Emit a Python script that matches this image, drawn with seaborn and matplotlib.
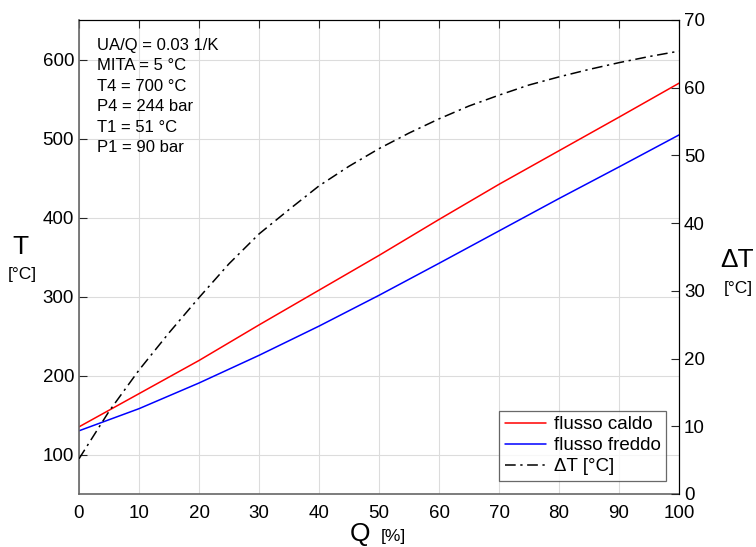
import numpy as np
import pandas as pd
import matplotlib
matplotlib.use("Agg")
import matplotlib.pyplot as plt
import seaborn as sns

# Data
Q = [0, 10, 20, 30, 40, 50, 60, 70, 80, 90, 100]
T_hot = [135, 177, 219, 264, 308, 352, 397.5, 442, 484.5, 527, 570]
T_cold = [130, 158, 190.5, 225.5, 262.5, 301.5, 342, 383, 424, 464, 504.5]
Q_dt = [0, 5, 10, 15, 20, 25, 30, 35, 40, 45, 50, 55, 60, 65, 70, 75, 80, 85, 90, 95, 100]
dT = [5.2, 12.2, 18.3, 23.8, 29.0, 34.0, 38.4, 42.0, 45.5, 48.4, 51.0, 53.3, 55.4,
      57.3, 58.9, 60.4, 61.6, 62.7, 63.7, 64.6, 65.4]

info_lines = ["UA/Q = 0.03 1/K", "MITA = 5 °C", "T4 = 700 °C", "P4 = 244 bar",
              "T1 = 51 °C", "P1 = 90 bar"]
x_ticks = list(range(0, 101, 10))
yl_ticks = [100, 200, 300, 400, 500, 600]
yr_ticks = [0, 10, 20, 30, 40, 50, 60, 70]

sns.set_style("white")
plt.rcParams['font.family'] = ['Liberation Sans', 'DejaVu Sans']
plt.rcParams['text.color'] = 'black'
plt.rcParams['xtick.color'] = 'black'
plt.rcParams['ytick.color'] = 'black'
plt.rcParams['xtick.labelcolor'] = 'black'
plt.rcParams['ytick.labelcolor'] = 'black'

fig = plt.figure(figsize=(7.56, 5.47), dpi=100)
ax = fig.add_axes([79/756, 53/547, 600/756, 474/547])
ax2 = ax.twinx()

df1 = pd.DataFrame({"Q": Q, "hot": T_hot, "cold": T_cold})
df2 = pd.DataFrame({"Q": Q_dt, "dT": dT})

sns.lineplot(data=df1, x="Q", y="hot", ax=ax, color="#ff0000", lw=1.1, label="flusso caldo", legend=False)
sns.lineplot(data=df1, x="Q", y="cold", ax=ax, color="#0000ff", lw=1.1, label="flusso freddo", legend=False)
sns.lineplot(data=df2, x="Q", y="dT", ax=ax2, color="black", lw=1.1, label="ΔT [°C]", legend=False)
ax2.lines[0].set_linestyle((0, (7, 3, 1.5, 3)))

ax.set_xlim(0, 100)
ax.set_ylim(50, 650)
ax2.set_ylim(0, 70)
ax.set_xticks(x_ticks)
ax.set_yticks(yl_ticks)
ax2.set_yticks(yr_ticks)
ax.set_xlabel("")
ax.set_ylabel("")
ax2.set_ylabel("")

ax.grid(True, color="#dcdcdc", lw=0.8)
ax.set_axisbelow(True)

ax.tick_params(axis="both", direction="in", length=6, width=0.8, labelsize=13.5,
               top=True, labeltop=False, color="#262626")
ax.tick_params(axis="x", pad=8)
ax2.tick_params(axis="y", direction="in", length=6, width=0.8, labelsize=13.5, color="#262626")

for side in ["left", "bottom"]:
    ax.spines[side].set_color("#666666")
    ax.spines[side].set_linewidth(1.2)
for side in ["top", "right"]:
    ax.spines[side].set_color("black")
    ax2.spines[side].set_color("black")
ax2.spines["left"].set_visible(False)
ax2.spines["bottom"].set_visible(False)

ax.text(0.03, 0.962, "\n".join(info_lines), transform=ax.transAxes, va="top", ha="left",
        fontsize=12, linespacing=1.45)

h1, l1 = ax.get_legend_handles_labels()
h2, l2 = ax2.get_legend_handles_labels()
leg = ax2.legend(h1 + h2, l1 + l2, loc="lower right", bbox_to_anchor=(0.985, 0.02),
                 fontsize=13.5, frameon=True, fancybox=False, edgecolor="#444444",
                 handlelength=2.2, borderpad=0.3, labelspacing=0.2, handletextpad=0.4,
                 borderaxespad=0.2)
leg.get_frame().set_linewidth(0.9)

fig.text(20/756, 1 - 247/547, "T", fontsize=19, ha="center", va="center")
fig.text(22/756, 1 - 275/547, "[°C]", fontsize=12.5, ha="center", va="center")
fig.text(737/756, 1 - 260/547, "ΔT", fontsize=19, ha="center", va="center")
fig.text(738/756, 1 - 288/547, "[°C]", fontsize=12.5, ha="center", va="center")
fig.text(360/756, 1 - 534/547, "Q", fontsize=19, ha="center", va="center")
fig.text(393/756, 1 - 537/547, "[%]", fontsize=12.5, ha="center", va="center")

fig.savefig("out.png", dpi=100)
